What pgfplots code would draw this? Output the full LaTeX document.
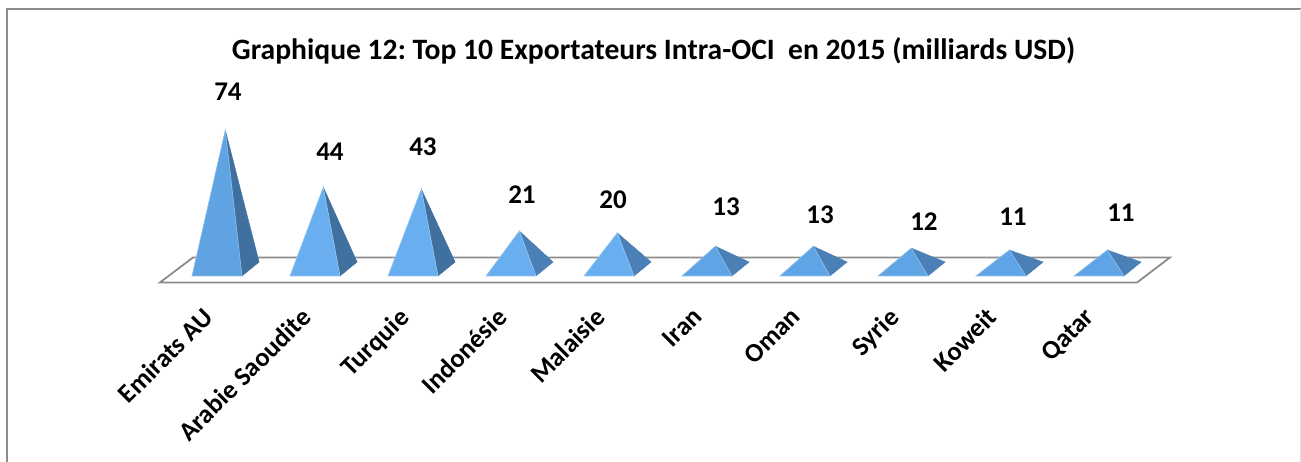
\documentclass[border=0pt]{standalone}
\usepackage{fontspec}
\setmainfont{Carlito}
\usepackage{pgfplots}
\pgfplotsset{compat=1.18}
\definecolor{frontA}{HTML}{5FA3E3}
\definecolor{frontB}{HTML}{69AEEE}
\definecolor{frontC}{HTML}{5FA5E5}
\definecolor{sideA}{HTML}{40709E}
\definecolor{sideB}{HTML}{4A80B5}
\definecolor{framegray}{HTML}{8C8C8C}
\pgfplotsset{
  front/.style={fill=#1, draw=#1!70!white, line width=0.6pt, mark=none},
  side/.style={fill=#1, draw=#1, line width=0.4pt, mark=none},
}
\frenchspacing
\begin{document}
\begin{tikzpicture}
\path[use as bounding box] (0pt,-179.5pt) rectangle (1301pt,282.5pt);
\draw[framegray, line width=1.6pt] (7pt,-182pt) -- (7pt,273.3pt) -- (1301pt,273.3pt);
\draw[black!12, line width=1pt] (1300.3pt,273pt) -- (1300.3pt,-182pt);
\begin{axis}[
    at={(0pt,0pt)}, anchor=south west,
    scale only axis,
    width=1301pt, height=282.5pt,
    xmin=-2.214, xmax=11.061,
    ymin=-6.04, ymax=142.26,
    clip=false,
    axis line style={draw=none},
    major tick length=0pt,
    ytick=\empty,
    xtick={0,...,9},
    xticklabels={Emirats AU, Arabie Saoudite, Turquie, Indonésie, Malaisie, Iran, Oman, Syrie, Koweit, Qatar},
    x tick label style={rotate=45, anchor=north east, font=\fontsize{26.4}{30}\selectfont\bfseries, xshift=-24.3pt, yshift=-2.1pt},
]
% floor
\addplot[fill=white, draw=framegray, line width=1.8pt, mark=none] coordinates {(-0.582,-6.04) (9.388,-6.04) (9.724,7.09) (-0.245,7.09)} -- cycle;
% pyramids: side face then front face, apex height = value
\addplot[side=sideA] coordinates {(0.255,-2.62) (0.085,74) (0.43,4.72)} -- cycle;
\addplot[front=frontA] coordinates {(-0.255,-2.62) (0.085,74) (0.255,-2.62)} -- cycle;
\addplot[side=sideA] coordinates {(1.255,-2.62) (1.085,44) (1.43,4.72)} -- cycle;
\addplot[front=frontB] coordinates {(0.745,-2.62) (1.085,44) (1.255,-2.62)} -- cycle;
\addplot[side=sideA] coordinates {(2.255,-2.62) (2.085,43) (2.43,4.72)} -- cycle;
\addplot[front=frontB] coordinates {(1.745,-2.62) (2.085,43) (2.255,-2.62)} -- cycle;
\addplot[side=sideB] coordinates {(3.255,-2.62) (3.085,21) (3.43,4.72)} -- cycle;
\addplot[front=frontB] coordinates {(2.745,-2.62) (3.085,21) (3.255,-2.62)} -- cycle;
\addplot[side=sideB] coordinates {(4.255,-2.62) (4.085,20) (4.43,4.72)} -- cycle;
\addplot[front=frontB] coordinates {(3.745,-2.62) (4.085,20) (4.255,-2.62)} -- cycle;
\addplot[side=sideB] coordinates {(5.255,-2.62) (5.085,13) (5.43,4.72)} -- cycle;
\addplot[front=frontC] coordinates {(4.745,-2.62) (5.085,13) (5.255,-2.62)} -- cycle;
\addplot[side=sideB] coordinates {(6.255,-2.62) (6.085,13) (6.43,4.72)} -- cycle;
\addplot[front=frontC] coordinates {(5.745,-2.62) (6.085,13) (6.255,-2.62)} -- cycle;
\addplot[side=sideB] coordinates {(7.255,-2.62) (7.085,12) (7.43,4.72)} -- cycle;
\addplot[front=frontC] coordinates {(6.745,-2.62) (7.085,12) (7.255,-2.62)} -- cycle;
\addplot[side=sideB] coordinates {(8.255,-2.62) (8.085,11) (8.43,4.72)} -- cycle;
\addplot[front=frontC] coordinates {(7.745,-2.62) (8.085,11) (8.255,-2.62)} -- cycle;
\addplot[side=sideB] coordinates {(9.255,-2.62) (9.085,11) (9.43,4.72)} -- cycle;
\addplot[front=frontC] coordinates {(8.745,-2.62) (9.085,11) (9.255,-2.62)} -- cycle;
% value labels
\begin{scope}[every node/.style={font=\fontsize{27}{30}\selectfont\bfseries, inner sep=0pt}]
\node at (axis cs:0.112,93.96) {74};
\node at (axis cs:1.153,62.47) {44};
\node at (axis cs:2.102,65.09) {43};
\node at (axis cs:3.112,39.9) {21};
\node at (axis cs:4.041,37.27) {20};
\node at (axis cs:5.194,33.6) {13};
\node at (axis cs:6.153,29.4) {13};
\node at (axis cs:7.214,25.72) {12};
\node at (axis cs:8.122,28.35) {11};
\node at (axis cs:9.224,30.45) {11};
\end{scope}
\end{axis}
\node[font=\fontsize{29.6}{34}\selectfont\bfseries, inner sep=0pt] at (653.5pt,231.5pt) {Graphique 12: Top 10 Exportateurs Intra-OCI\ \ en 2015 (milliards USD)};
\end{tikzpicture}
\end{document}
